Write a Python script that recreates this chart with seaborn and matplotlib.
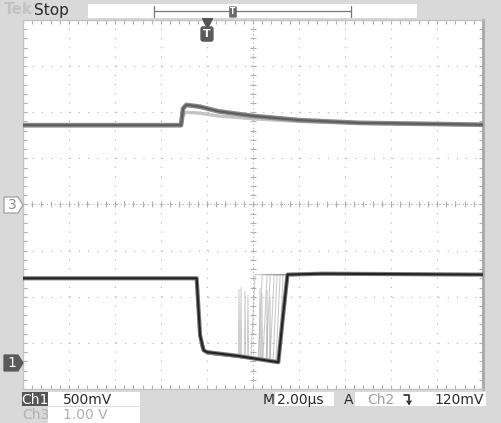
import numpy as np
import pandas as pd
import matplotlib
matplotlib.use("Agg")
import matplotlib.pyplot as plt
from matplotlib.ticker import MultipleLocator, NullFormatter
from matplotlib.patches import Rectangle, Polygon
from matplotlib.lines import Line2D
import seaborn as sns

sns.set_theme(style="white")
plt.rcParams["font.family"] = ["DejaVu Sans"]

# ---- acquisition settings ----
TIME_PER_DIV = 2.0          # µs/div
CH1_VOLTS_PER_DIV = 0.5     # V/div
CH3_VOLTS_PER_DIV = 1.0     # V/div
CH1_POSITION = -3.44        # div
CH3_POSITION = 0.0          # div

# ---- channel 3 (upper trace) ----
ch3_time = [-8.0, -1.13, -1.04, -0.9, -0.3, 0.5, 2.0, 4.0, 6.6, 9.3, 12.0]
ch3_main = [1.72, 1.72, 2.08, 2.16, 2.12, 2.02, 1.92, 1.83, 1.77, 1.75, 1.73]
ch3_ghost = [1.71, 1.71, 1.94, 2.00, 1.98, 1.92, 1.86, 1.80, 1.76, 1.74, 1.73]

# ---- channel 1 (lower trace, latest acquisition) ----
ch1_time = [-8.0, -0.45, -0.3, -0.15, 0.0, 1.3, 3.1, 3.3, 3.5, 5.0, 12.0]
ch1_main = [0.92, 0.92, 0.30, 0.14, 0.12, 0.08, 0.01, 0.50, 0.96, 0.97, 0.96]

# persisted channel 1 acquisitions: rise time (µs) and level just before the rise (V)
ch1_rise_times = [1.91, 2.22, 2.43, 2.57, 2.74, 2.87, 3.00, 3.13]
ch1_rise_lows = [0.05, 0.04, 0.04, 0.03, 0.03, 0.02, 0.02, 0.02]

# glitches in the persisted acquisitions: time (µs), peak (V), base (V)
glitch_times = [1.39, 1.48, 1.65, 1.78, 2.30, 2.39, 2.61, 2.74]
glitch_peaks = [0.80, 0.82, 0.78, 0.74, 0.81, 0.76, 0.79, 0.72]
glitch_bases = [0.06, 0.06, 0.05, 0.05, 0.04, 0.04, 0.03, 0.03]

# ---- readouts ----
ch1_label, ch1_scale = "Ch1", "500mV"
ch3_label, ch3_scale = "Ch3", "1.00 V"
time_scale = "2.00µs"
trig_source, trig_level = "Ch2", "120mV"


def to_div(volts, vpd, pos):
    return [v / vpd + pos for v in volts]


W, H = 501, 423
BG = "#d9d9d9"
fig = plt.figure(figsize=(W / 100, H / 100), dpi=100, facecolor=BG)
ax = fig.add_axes([23 / W, (H - 389) / H, 460 / W, 369 / H])
ax.set_facecolor("white")


def fx(x):
    return x / W


def fy(y):
    return 1 - y / H


# ---- graticule ----
grid_c = "#b0b0b0"
for k in range(1, 10):
    t = -8 + k * TIME_PER_DIV
    ax.axvline(t, color=grid_c, lw=0.8, ls=(0, (1, 7.3)), zorder=0)
for d in range(-3, 4):
    ax.axhline(d, color=grid_c, lw=0.8, ls=(0, (1, 7.3)), zorder=0)
ax.axvline(2, color=grid_c, lw=0.8, ls=(0, (1, 2.5)), zorder=0)
ax.axhline(0, color=grid_c, lw=0.8, ls=(0, (1, 2.5)), zorder=0)
ax.plot(np.arange(-8, 12.01, 0.4), np.zeros(51), ls="none", marker="|",
        ms=4, mew=0.8, color=grid_c, zorder=0)
ax.plot(np.full(41, 2.0), np.arange(-4, 4.01, 0.2), ls="none", marker="_",
        ms=4, mew=0.8, color=grid_c, zorder=0)

# ---- traces ----
rows = []
for t, v in zip(ch3_time, to_div(ch3_ghost, CH3_VOLTS_PER_DIV, CH3_POSITION)):
    rows.append(("ch3_ghost", t, v))
for t, v in zip(ch3_time, to_div(ch3_main, CH3_VOLTS_PER_DIV, CH3_POSITION)):
    rows.append(("ch3_main", t, v))
df3 = pd.DataFrame(rows, columns=["trace", "time", "div"])

sns.lineplot(data=df3[df3.trace == "ch3_ghost"], x="time", y="div",
             color="#c4c4c4", lw=2.4, ax=ax, estimator=None, zorder=2)
sns.lineplot(data=df3[df3.trace == "ch3_main"], x="time", y="div",
             color="#8c8c8c", lw=3.4, ax=ax, estimator=None, zorder=3)
sns.lineplot(data=df3[df3.trace == "ch3_main"], x="time", y="div",
             color="#5e5e5e", lw=1.6, ax=ax, estimator=None, zorder=4)

# persisted channel 1 acquisitions
ghost_rows = []
for i, (tr, lo) in enumerate(zip(ch1_rise_times, ch1_rise_lows)):
    tt = [-8.0, -0.45, -0.25, 0.0, tr, tr + 0.18, 12.0]
    vv = [0.92, 0.92, 0.18, 0.10, lo, 0.96, 0.96]
    for t, v in zip(tt, to_div(vv, CH1_VOLTS_PER_DIV, CH1_POSITION)):
        ghost_rows.append((f"g{i}", t, v))
dfg = pd.DataFrame(ghost_rows, columns=["acq", "time", "div"])
sns.lineplot(data=dfg, x="time", y="div", units="acq", estimator=None,
             color="#9a9a9a", lw=0.8, alpha=0.5, ax=ax, zorder=2)

glitch_rows = []
for i, (tg, pk, bs) in enumerate(zip(glitch_times, glitch_peaks, glitch_bases)):
    for t, v in zip([tg - 0.03, tg, tg + 0.03],
                    to_div([bs, pk, bs], CH1_VOLTS_PER_DIV, CH1_POSITION)):
        glitch_rows.append((f"s{i}", t, v))
dfs = pd.DataFrame(glitch_rows, columns=["acq", "time", "div"])
sns.lineplot(data=dfs, x="time", y="div", units="acq", estimator=None,
             color="#a8a8a8", lw=0.7, alpha=0.6, ax=ax, zorder=2)

df1 = pd.DataFrame({"time": ch1_time,
                    "div": to_div(ch1_main, CH1_VOLTS_PER_DIV, CH1_POSITION)})
sns.lineplot(data=df1, x="time", y="div", color="#7a7a7a", lw=3.0,
             ax=ax, estimator=None, zorder=3)
sns.lineplot(data=df1, x="time", y="div", color="#222222", lw=1.5,
             ax=ax, estimator=None, zorder=4)

ax.set_xlim(-8, 12)
ax.set_ylim(-4, 4)
ax.set_xlabel("")
ax.set_ylabel("")
ax.xaxis.set_major_locator(MultipleLocator(2))
ax.xaxis.set_minor_locator(MultipleLocator(0.4))
ax.yaxis.set_major_locator(MultipleLocator(1))
ax.yaxis.set_minor_locator(MultipleLocator(0.2))
for a in (ax.xaxis, ax.yaxis):
    a.set_major_formatter(NullFormatter())
    a.set_minor_formatter(NullFormatter())
ax.tick_params(which="both", direction="in", length=3, width=0.8,
               color=grid_c, top=True, right=True, bottom=True, left=True)
for s in ax.spines.values():
    s.set_color("#c4c4c4")
    s.set_linewidth(1.0)
ax.spines["right"].set_color("#a8a8a8")
ax.spines["right"].set_linewidth(2.0)

# trigger position marker
ax.plot([0], [3.93], marker="v", ms=7, color="#555555", clip_on=False, zorder=6)
fig.text(fx(207), fy(34), "T", ha="center", va="center", color="white",
         fontsize=8, fontweight="bold",
         bbox=dict(boxstyle="round,pad=0.25", fc="#5a5a5a", ec="none"))

# ---- status bar ----
fig.text(fx(4), fy(10), "Tek", ha="left", va="center", fontsize=11,
         color="#c3c3c3", fontweight="bold")
fig.text(fx(34), fy(10), "Stop", ha="left", va="center", fontsize=11,
         color="#2a2a2a")
fig.add_artist(Rectangle((fx(88), fy(18)), fx(417) - fx(88), fy(4) - fy(18),
                         transform=fig.transFigure, fc="white", ec="none"))
for seg in ([154, 351], [11.5, 11.5]), ([154, 154], [6, 17]), ([351, 351], [6, 17]):
    fig.add_artist(Line2D([fx(x) for x in seg[0]], [fy(y) for y in seg[1]],
                          transform=fig.transFigure, color="#777777", lw=0.9))
fig.text(fx(233), fy(12), "T", ha="center", va="center", color="white",
         fontsize=5.5, fontweight="bold",
         bbox=dict(boxstyle="round,pad=0.15", fc="#6a6a6a", ec="none"))


# ---- channel reference markers ----
def ref_marker(ycen, label, fc, ec, tc):
    pts = [(4, ycen - 8), (18, ycen - 8), (23, ycen), (18, ycen + 8), (4, ycen + 8)]
    fig.add_artist(Polygon([(fx(x), fy(y)) for x, y in pts], closed=True,
                           transform=fig.transFigure, fc=fc, ec=ec, lw=0.9))
    fig.text(fx(12), fy(ycen), label, ha="center", va="center", fontsize=10,
             color=tc)


ref_marker(205, "3", "white", "#a0a0a0", "#8a8a8a")
ref_marker(363, "1", "#5a5a5a", "#5a5a5a", "white")


# ---- readouts ----
def white_box(x0, y0, x1, y1):
    fig.add_artist(Rectangle((fx(x0), fy(y1)), fx(x1) - fx(x0), fy(y0) - fy(y1),
                             transform=fig.transFigure, fc="white", ec="none"))


white_box(48, 392, 140, 406)
white_box(48, 407, 140, 423)
white_box(275, 392, 334, 406)
white_box(355, 392, 486, 406)
fig.add_artist(Rectangle((fx(22), fy(406)), fx(48) - fx(22), fy(392) - fy(406),
                         transform=fig.transFigure, fc="#555555", ec="none"))
fs = 10
fig.text(fx(35), fy(399.5), ch1_label, ha="center", va="center", fontsize=fs,
         color="white")
fig.text(fx(63), fy(399.5), ch1_scale, ha="left", va="center", fontsize=fs,
         color="#2a2a2a")
fig.text(fx(22), fy(415), ch3_label, ha="left", va="center", fontsize=fs,
         color="#b0b0b0")
fig.text(fx(63), fy(415), ch3_scale, ha="left", va="center", fontsize=fs,
         color="#b0b0b0")
fig.text(fx(263), fy(399.5), "M", ha="left", va="center", fontsize=fs,
         color="#2a2a2a")
fig.text(fx(277), fy(399.5), time_scale, ha="left", va="center", fontsize=fs,
         color="#2a2a2a")
fig.text(fx(344), fy(399.5), "A", ha="left", va="center", fontsize=fs,
         color="#2a2a2a")
fig.text(fx(367), fy(399.5), trig_source, ha="left", va="center", fontsize=fs,
         color="#a0a0a0")
# falling-edge slope symbol
fig.add_artist(Line2D([fx(404), fx(409), fx(409)], [fy(395), fy(395), fy(404)],
                      transform=fig.transFigure, color="#2a2a2a", lw=1.2))
fig.add_artist(Line2D([fx(407), fx(409), fx(411)], [fy(401), fy(404), fy(401)],
                      transform=fig.transFigure, color="#2a2a2a", lw=1.0))
fig.text(fx(484), fy(399.5), trig_level, ha="right", va="center", fontsize=fs,
         color="#2a2a2a")

fig.savefig("out.png", dpi=100, facecolor=BG)
